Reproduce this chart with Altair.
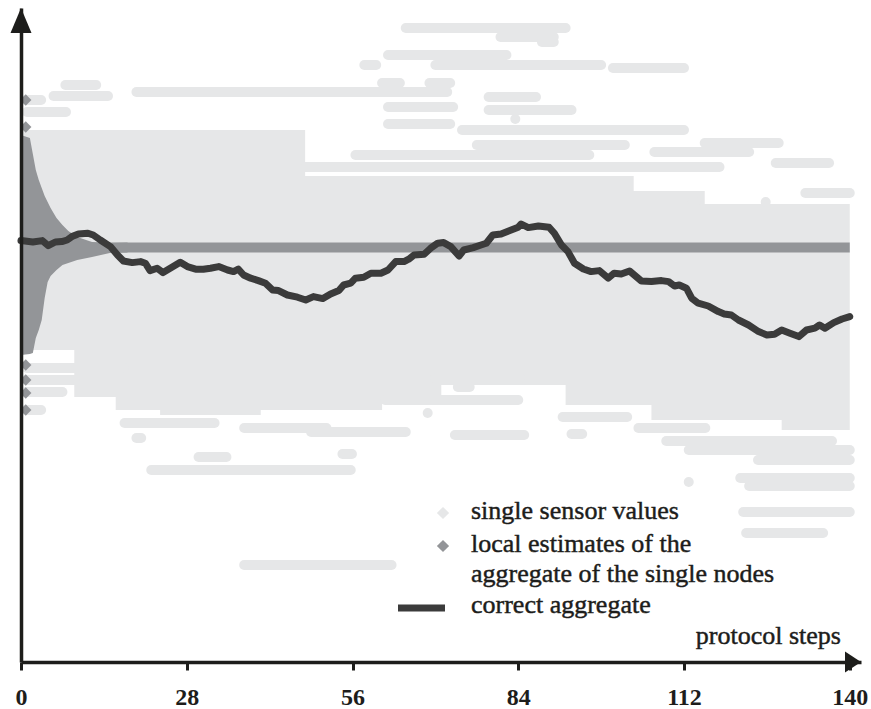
import altair as alt
import pandas as pd

# ---------------------------------------------------------------------------
# Data
# ---------------------------------------------------------------------------

# Correct aggregate (mean of all sensor readings) over the protocol steps
agg_steps = [0, 2.0, 3.6, 4.6, 5.8, 6.9, 7.8, 8.6, 9.7, 11.3, 12.2, 13.4, 15.1, 16.3,
             17.3, 18.8, 20.2, 21.0, 21.8, 23.0, 24.0, 25.7, 26.9, 28.1, 29.5, 30.8,
             32.0, 33.4, 34.9, 35.9, 36.7, 37.6, 38.8, 40.1, 41.3, 42.5, 43.5, 45.0,
             46.7, 48.1, 49.4, 51.0, 52.3, 53.7, 54.5, 55.7, 56.5, 57.9, 59.1, 60.8,
             62.0, 63.3, 64.7, 65.5, 66.4, 68.1, 69.2, 70.4, 71.4, 72.6, 74.0, 74.8,
             76.4, 77.7, 78.6, 79.7, 81.1, 82.8, 84.0, 84.5, 85.7, 87.4, 89.2, 90.1,
             91.3, 92.4, 93.5, 95.0, 96.3, 97.7, 99.2, 100.2, 101.4, 102.8, 104.8,
             106.5, 108.2, 109.4, 110.4, 111.2, 112.4, 113.3, 114.4, 116.1, 117.8,
             118.8, 120.0, 121.2, 122.9, 124.6, 126.0, 127.3, 128.5, 129.9, 131.4,
             132.7, 134.1, 134.9, 135.8, 137.3, 138.7, 140]
agg_values = [21.07, 21.0, 21.07, 20.82, 21.0, 21.02, 21.1, 21.27, 21.4, 21.44, 21.35,
              21.1, 20.77, 20.35, 20.05, 19.97, 20.02, 19.94, 19.57, 19.69, 19.47,
              19.77, 19.99, 19.77, 19.64, 19.64, 19.69, 19.77, 19.6, 19.52, 19.64,
              19.35, 19.19, 19.07, 18.94, 18.6, 18.57, 18.35, 18.24, 18.1, 18.27,
              18.17, 18.4, 18.57, 18.85, 18.94, 19.19, 19.24, 19.44, 19.44, 19.6,
              20.02, 20.02, 20.14, 20.35, 20.39, 20.69, 20.94, 20.97, 20.77, 20.3,
              20.6, 20.72, 20.85, 20.94, 21.35, 21.4, 21.6, 21.74, 21.9, 21.72, 21.8,
              21.74, 21.44, 20.85, 20.52, 19.94, 19.65, 19.52, 19.57, 19.19, 19.44,
              19.4, 19.55, 19.05, 19.02, 19.07, 19.02, 18.8, 18.85, 18.69, 18.19,
              17.94, 17.8, 17.52, 17.4, 17.35, 17.1, 16.85, 16.52, 16.35, 16.39,
              16.6, 16.44, 16.27, 16.6, 16.69, 16.85, 16.69, 16.97, 17.15, 17.27]

# Converged local estimate held by every node
estimate_value = 20.72

# Spread of the local estimates while the protocol converges
funnel_steps = [0, 1.5, 2, 2.5, 3, 3.5, 4, 4.5, 5, 6, 7, 8, 9.5, 12, 15, 18]
funnel_high = [26.35, 26.2, 25.4, 24.6, 24.1, 23.7, 23.3, 23.0, 22.7, 22.2, 21.85,
               21.55, 21.25, 21.0, 20.95, 20.97]
funnel_low = [15.35, 15.4, 15.45, 16.2, 16.6, 17.1, 18.2, 19.0, 19.3, 19.6, 19.85,
              19.95, 20.1, 20.25, 20.45, 20.47]

# Outlying initial estimates (first steps)
outlier_estimates = [28.1, 26.75, 14.85, 14.1, 13.45, 12.6]

# Dense band of single sensor readings
core_steps = [0, 9, 16, 23.5, 40.5, 48, 61, 71, 92, 103.5, 106.5, 115.5, 128.5, 140]
core_high = [26.6, 26.6, 26.6, 26.6, 26.6, 24.3, 24.3, 24.3, 24.3, 23.55, 23.55,
             22.9, 22.9, 22.9]
core_low = [15.6, 13.25, 12.6, 12.35, 12.6, 12.6, 13.0, 13.85, 12.85, 12.85, 12.1,
            12.1, 11.6, 11.6]

# Sensors holding a constant reading outside the dense band
streak_value = [31.7, 31.25, 31.0, 30.35, 29.85, 29.85, 29.7, 28.95, 28.95, 28.5,
                28.25, 27.75, 27.6, 27.15, 26.9, 26.6, 25.85, 25.95, 25.5, 25.35,
                24.95, 24.75, 23.45, 23.0, 23.0,
                28.85, 28.3, 28.1, 27.5,
                14.7, 14.1, 13.5, 12.6, 11.95, 11.7, 11.5, 11.2, 12.45, 10.25, 10.4,
                9.6, 4.85, 14.2, 13.75, 13.1, 12.25, 11.7, 11.35, 11.4, 11.05, 10.6,
                10.1, 9.2, 8.8, 9.0, 7.5, 6.45]
streak_start = [65, 81, 88, 62, 58, 70, 100, 61, 69, 19.5,
                79, 62, 79, 83.5, 62, 74.5, 77, 115.5, 107, 56.5,
                127.5, 48, 132.5, 113.5, 125.8,
                7.5, 5.5, 0.8, 1,
                1, 0.8, 0.8, 0.8, 17.5, 37.7, 49, 19.5, 68.7, 30, 54.3,
                22, 37.7, 70, 73.8, 61.5, 91.5, 104.3, 73.3, 93, 109, 112.8,
                124.5, 121.5, 123, 112.8, 122, 122.5]
streak_end = [92, 90, 90, 82, 60, 98, 112, 64, 72.5, 72,
              87, 73, 93, 83.5, 72.5, 112, 102, 128, 123, 96,
              136.5, 118, 140, 114, 125.8,
              12.7, 14.7, 3.4, 7.6,
              17.3, 9, 7, 3.4, 32.7, 51.6, 65, 20.3, 68.7, 34.7, 55.9,
              55.7, 62.6, 84.3, 75.8, 84, 102.4, 115.6, 85, 94.8, 137, 140,
              140, 140, 140, 112.8, 140, 135.5]

tick_steps = [0, 28, 56, 84, 112, 140]
legend_labels = ["single sensor values", "local estimates of the",
                 "aggregate of the single nodes", "correct aggregate"]
axis_label = "protocol steps"

# ---------------------------------------------------------------------------
# Styling
# ---------------------------------------------------------------------------
LIGHT = "#e6e7e8"
MID = "#939598"
DARK = "#3b3b3b"
INK = "#1d1d1b"
FONT = "Liberation Serif"

W, H = 840, 654
x_scale = alt.Scale(domain=[0, 141.9], nice=False, zero=False)
y_scale = alt.Scale(domain=[0, 32.7], nice=False, zero=False)

x_axis = alt.Axis(values=tick_steps, title=None, grid=False, domainColor=INK,
                  domainWidth=3.5, tickColor=INK, tickWidth=3, tickSize=8,
                  labelFont=FONT, labelFontSize=24, labelFontWeight="bold",
                  labelColor=INK, labelPadding=15, labelFlush=False,
                  labelOverlap=False, zindex=1)
y_axis = alt.Axis(title=None, labels=False, ticks=False, grid=False,
                  domainColor=INK, domainWidth=3.5, zindex=1)


def X(field):
    return alt.X(field, type="quantitative", scale=x_scale, axis=x_axis)


def Y(field):
    return alt.Y(field, type="quantitative", scale=y_scale, axis=y_axis)


core_df = pd.DataFrame({"step": core_steps, "hi": core_high, "lo": core_low})
streak_df = pd.DataFrame({"s0": streak_start, "s1": streak_end, "v": streak_value})
funnel_df = pd.DataFrame({"step": funnel_steps, "hi": funnel_high, "lo": funnel_low})
outlier_df = pd.DataFrame({"s0": [0.8] * len(outlier_estimates),
                           "v": outlier_estimates})
estimate_df = pd.DataFrame({"s0": [0], "s1": [140], "v": [estimate_value]})
agg_df = pd.DataFrame({"step": agg_steps, "v": agg_values})
one = pd.DataFrame({"k": [0]})

core = alt.Chart(core_df).mark_area(color=LIGHT, interpolate="step-after").encode(
    x=X("step"), y=Y("lo"), y2="hi")

streaks = alt.Chart(streak_df).mark_rule(color=LIGHT, strokeWidth=10,
                                         strokeCap="round").encode(
    x=X("s0"), x2="s1", y=Y("v"))

funnel = alt.Chart(funnel_df).mark_area(color=MID).encode(
    x=X("step"), y=Y("lo"), y2="hi")

outliers = alt.Chart(outlier_df).mark_point(shape="diamond", size=130, filled=True,
                                            opacity=1, color=MID).encode(
    x=X("s0"), y=Y("v"))

estimate = alt.Chart(estimate_df).mark_rule(color=MID, strokeWidth=10).encode(
    x=X("s0"), x2="s1", y=Y("v"))

aggregate = alt.Chart(agg_df).mark_line(color=DARK, strokeWidth=7,
                                        strokeJoin="round", strokeCap="round").encode(
    x=X("step"), y=Y("v"))

# Arrow heads at the ends of both axes
x_arrow = alt.Chart(one).mark_point(shape="M0,0L-16,-10.5L-16,10.5Z", size=4,
                                    filled=True, opacity=1, color=INK).encode(
    x=alt.value(W), y=alt.value(H))
y_arrow = alt.Chart(one).mark_point(shape="M0,0L-10.5,25L10.5,25Z", size=4,
                                    filled=True, opacity=1, color=INK).encode(
    x=alt.value(0), y=alt.value(0))

# Legend
leg_x, sym_x = 450, 422
leg_sym_light = alt.Chart(one).mark_point(shape="diamond", size=150, filled=True,
                                          opacity=1, color=LIGHT).encode(
    x=alt.value(sym_x), y=alt.value(505))
leg_sym_mid = alt.Chart(one).mark_point(shape="diamond", size=150, filled=True,
                                        opacity=1, color=MID).encode(
    x=alt.value(sym_x), y=alt.value(538))
leg_sym_line = alt.Chart(one).mark_rule(color=DARK, strokeWidth=7).encode(
    x=alt.value(377), x2=alt.value(424), y=alt.value(600))

text_style = dict(font=FONT, fontSize=26, color=INK, align="left",
                  baseline="alphabetic", stroke=INK, strokeWidth=0.45)
leg_texts = [
    alt.Chart(one).mark_text(text=label, **text_style).encode(
        x=alt.value(leg_x), y=alt.value(y))
    for label, y in zip(legend_labels, [511, 544, 574, 605])
]
steps_text = alt.Chart(one).mark_text(text=axis_label, font=FONT, fontSize=26,
                                      color=INK, align="right",
                                      baseline="alphabetic", stroke=INK,
                                      strokeWidth=0.45).encode(
    x=alt.value(820), y=alt.value(636))

chart = alt.layer(
    core, streaks, funnel, outliers, estimate, aggregate,
    x_arrow, y_arrow, leg_sym_light, leg_sym_mid, leg_sym_line,
    *leg_texts, steps_text,
).properties(
    width=W, height=H, autosize="none",
    padding={"left": 21, "top": 8, "right": 10, "bottom": 47},
    background="white",
).configure_view(stroke=None)

chart.save("out.html", embed_options={"renderer": "svg", "actions": False})
